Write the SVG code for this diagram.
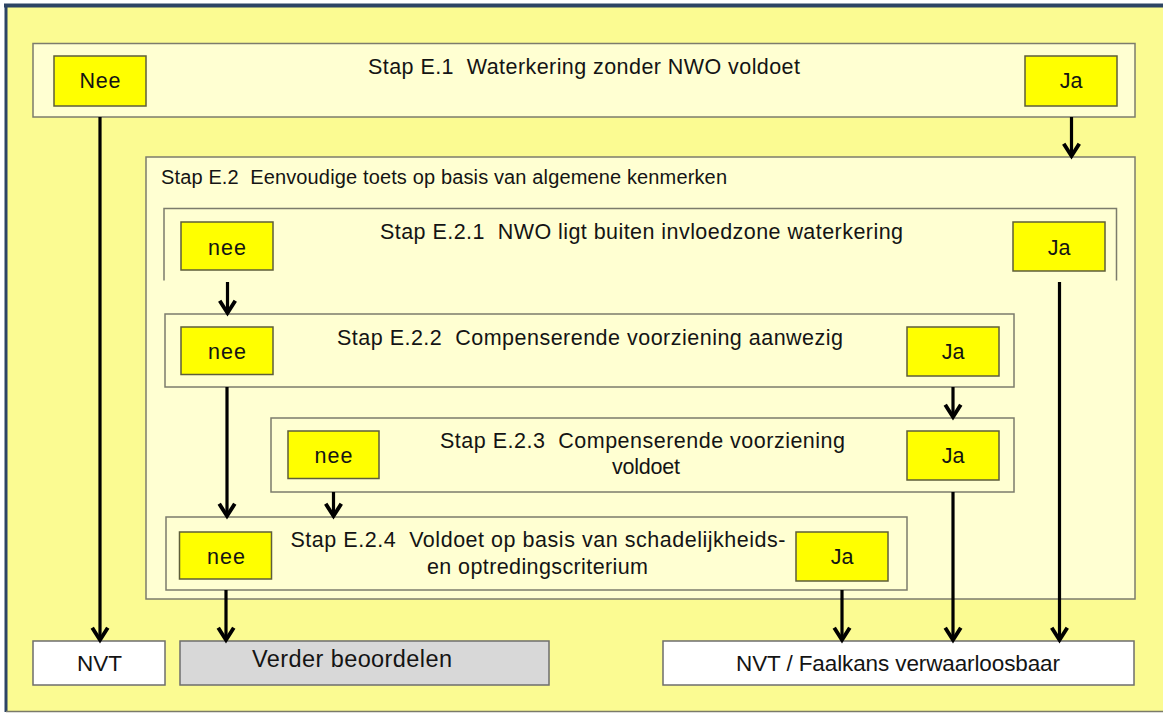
<svg xmlns="http://www.w3.org/2000/svg" width="1163" height="713" viewBox="0 0 1163 713">
  <defs>
    <marker id="arrow" markerUnits="userSpaceOnUse" markerWidth="20" markerHeight="20" viewBox="-14 -9 18 18" refX="0" refY="0" orient="auto" overflow="visible">
      <path d="M-11,-7 L0,0 L-11,7" fill="none" stroke="#000" stroke-width="3.5" stroke-linejoin="miter"/>
    </marker>
  </defs>
  <style>
    text { font-family: "Liberation Sans", Arial, sans-serif; fill: #141414; white-space: pre; }
    .panel { fill: #FFFFD2; stroke: #7C7C6C; stroke-width: 1.5; }
    .btn { fill: #FFFF00; stroke: #5E5E3A; stroke-width: 1.5; }
    .title { font-size: 21.5px; text-anchor: middle; }
    .lbl { font-size: 21.5px; text-anchor: middle; }
    .out { font-size: 22.5px; text-anchor: middle; }
    .end { stroke: #6E6E6E; stroke-width: 1.5; }
    .conn { fill: none; stroke: #000; stroke-width: 3.2; marker-end: url(#arrow); }
  </style>

  <!-- background frame -->
  <rect x="6" y="6" width="1160" height="705" fill="#FBFB92"/>
  <line x1="4" y1="5.5" x2="1163" y2="5.5" stroke="#2D4464" stroke-width="4"/>
  <line x1="6" y1="4" x2="6" y2="712" stroke="#2D4464" stroke-width="3"/>
  <line x1="6" y1="711.5" x2="1163" y2="711.5" stroke="#7A7A6A" stroke-width="1.5"/>

  <!-- Stap E.1 -->
  <g id="e1">
    <rect class="panel" x="33" y="43.5" width="1102" height="73.5"/>
    <text class="title" x="584" y="74" textLength="432">Stap E.1  Waterkering zonder NWO voldoet</text>
    <g id="e1-nee">
      <rect class="btn" x="54" y="56" width="92" height="50"/>
      <text class="lbl" x="100" y="88" textLength="41">Nee</text>
    </g>
    <g id="e1-ja">
      <rect class="btn" x="1025" y="56" width="92" height="50"/>
      <text class="lbl" x="1071" y="88">Ja</text>
    </g>
  </g>

  <!-- Stap E.2 -->
  <g id="e2">
    <rect class="panel" x="146" y="157" width="989" height="442"/>
    <text x="161" y="184" style="font-size:20px" textLength="566">Stap E.2  Eenvoudige toets op basis van algemene kenmerken</text>
  </g>

  <!-- Stap E.2.1 (open at the bottom) -->
  <g id="e21">
    <path d="M164,280.5 V208.5 H1116.5 V280.5" fill="none" stroke="#7C7C6C" stroke-width="1.5"/>
    <text class="title" x="641.5" y="239" textLength="523">Stap E.2.1  NWO ligt buiten invloedzone waterkering</text>
    <g id="e21-nee">
      <rect class="btn" x="181" y="222" width="92" height="48"/>
      <text class="lbl" x="227" y="255" textLength="38">nee</text>
    </g>
    <g id="e21-ja">
      <rect class="btn" x="1013" y="222" width="92" height="49"/>
      <text class="lbl" x="1059" y="255">Ja</text>
    </g>
  </g>

  <!-- Stap E.2.2 -->
  <g id="e22">
    <rect class="panel" x="165" y="314" width="849" height="73"/>
    <text class="title" x="590" y="345" textLength="506">Stap E.2.2  Compenserende voorziening aanwezig</text>
    <g id="e22-nee">
      <rect class="btn" x="181" y="327" width="92" height="47.5"/>
      <text class="lbl" x="227" y="359" textLength="38">nee</text>
    </g>
    <g id="e22-ja">
      <rect class="btn" x="907" y="327" width="92" height="49"/>
      <text class="lbl" x="953" y="359">Ja</text>
    </g>
  </g>

  <!-- Stap E.2.3 -->
  <g id="e23">
    <rect class="panel" x="271" y="418" width="743" height="74"/>
    <text class="title" x="642.5" y="448" textLength="405">Stap E.2.3  Compenserende voorziening</text>
    <text class="title" x="646" y="474" textLength="68">voldoet</text>
    <g id="e23-nee">
      <rect class="btn" x="288" y="431" width="91" height="47.5"/>
      <text class="lbl" x="333.5" y="463" textLength="38">nee</text>
    </g>
    <g id="e23-ja">
      <rect class="btn" x="907" y="431" width="92" height="49"/>
      <text class="lbl" x="953" y="463">Ja</text>
    </g>
  </g>

  <!-- Stap E.2.4 -->
  <g id="e24">
    <rect class="panel" x="166" y="517" width="741" height="73"/>
    <text class="title" x="538" y="547" textLength="495">Stap E.2.4  Voldoet op basis van schadelijkheids-</text>
    <text class="title" x="537.5" y="574" textLength="221">en optredingscriterium</text>
    <g id="e24-nee">
      <rect class="btn" x="179.5" y="532" width="92" height="47"/>
      <text class="lbl" x="226" y="564" textLength="38">nee</text>
    </g>
    <g id="e24-ja">
      <rect class="btn" x="796" y="532" width="92" height="49"/>
      <text class="lbl" x="842" y="564">Ja</text>
    </g>
  </g>

  <!-- outcomes -->
  <g id="nvt">
    <rect x="33" y="641" width="132" height="44" fill="#FFFFFF" class="end"/>
    <text class="out" x="99.5" y="671" textLength="45">NVT</text>
  </g>
  <g id="verder">
    <rect x="180" y="641" width="369" height="44" fill="#D8D8D8" class="end"/>
    <text class="out" x="352" y="667" style="font-size:23.5px" textLength="200">Verder beoordelen</text>
  </g>
  <g id="nvt-faalkans">
    <rect x="663" y="641" width="471" height="44" fill="#FFFFFF" class="end"/>
    <text class="out" x="898" y="671" textLength="324">NVT / Faalkans verwaarloosbaar</text>
  </g>

  <!-- connectors -->
  <g id="connectors">
    <path class="conn" d="M100,117 V640" stroke-width="4"/>
    <path class="conn" d="M1071.5,117 V156"/>
    <path class="conn" d="M227.5,282 V313"/>
    <path class="conn" d="M1059.5,282 V640" stroke-width="3.8"/>
    <path class="conn" d="M227,387 V516"/>
    <path class="conn" d="M953,387 V417"/>
    <path class="conn" d="M333.5,492 V516"/>
    <path class="conn" d="M953,492 V640"/>
    <path class="conn" d="M226,590 V640"/>
    <path class="conn" d="M842,590 V640"/>
  </g>
</svg>
